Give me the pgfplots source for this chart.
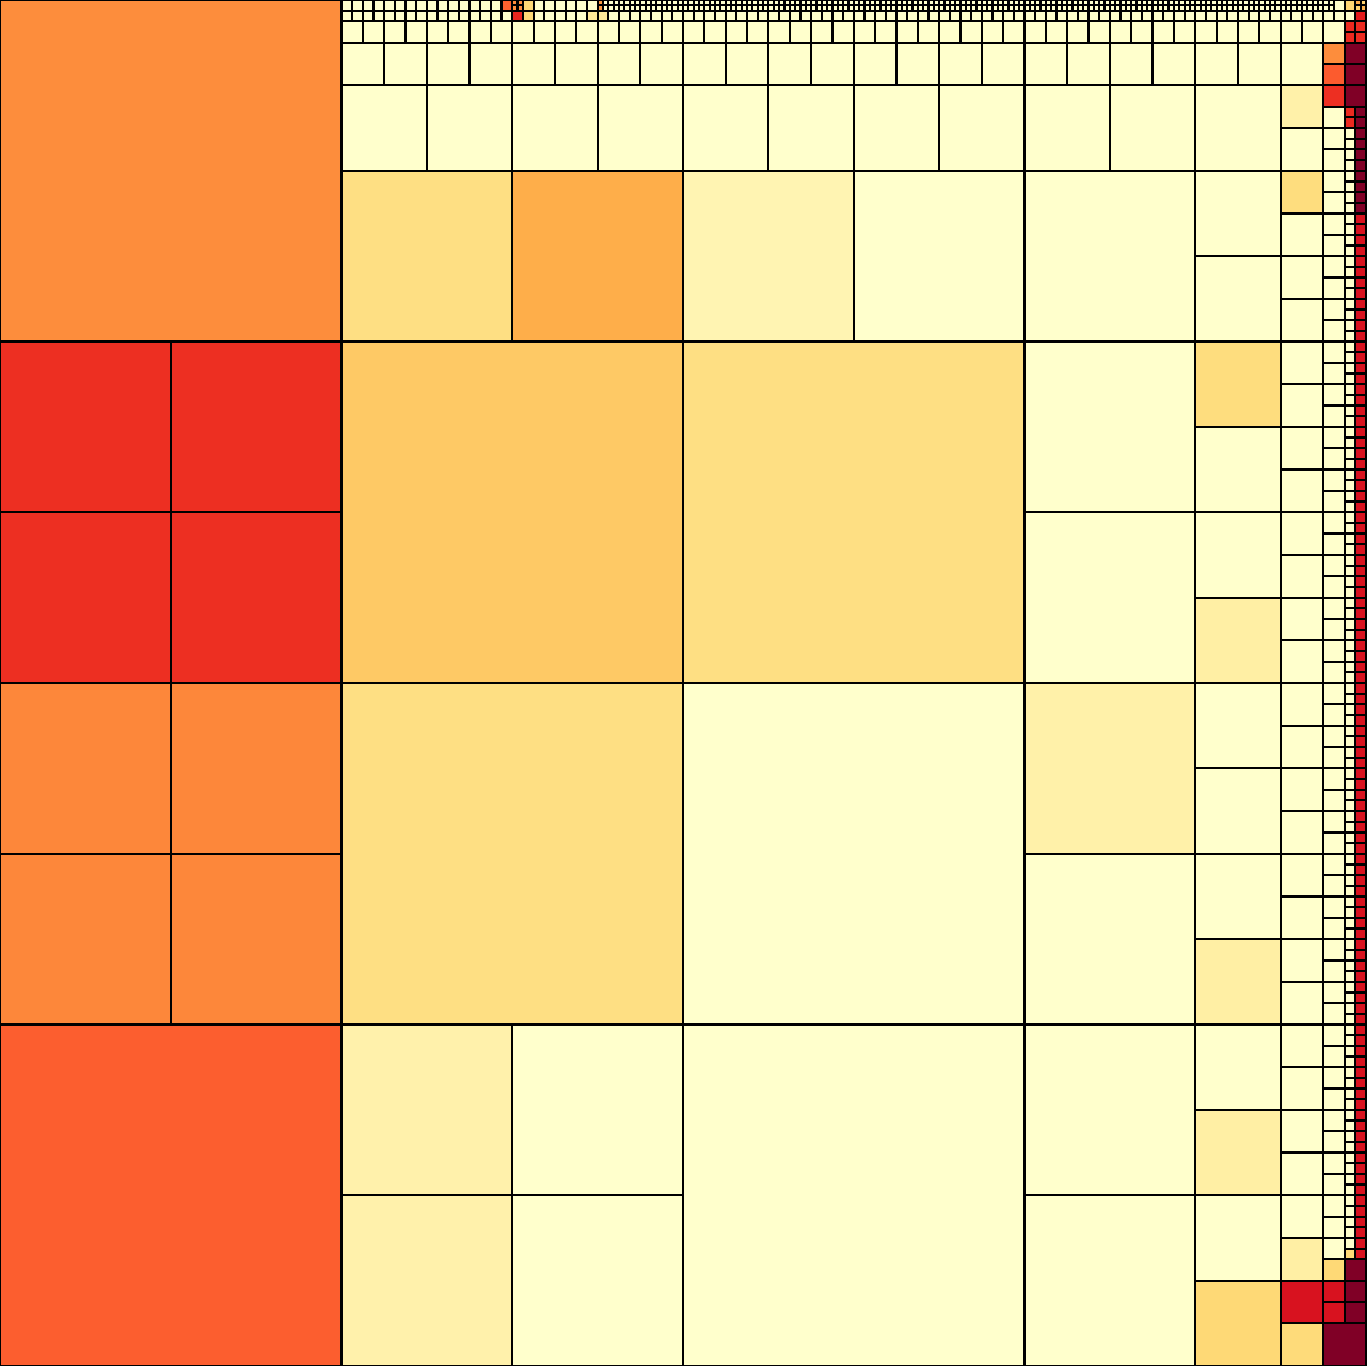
\documentclass[border=0pt]{standalone}
\usepackage{pgfplots}
\usepackage{pgfplotstable}
\pgfplotsset{compat=1.18}
\pgfplotsset{
  blk/.style={scatter, only marks, mark=square*, scatter src=explicit,
    scatter/use mapped color={draw=black,fill=mapped color},
    mark options={line width=0.55pt}, mark size=#1},
}
% c = first column, r = first row (from top), v = colour value (0..8 on YlOrRd)
\pgfplotstableread[row sep=\\]{
c r v\\
0 0 4.0\\0 192 4.75\\64 64 2.4\\128 64 1.7\\64 128 1.7\\128 128 0\\128 192 0\\
}\tabA
\pgfplotstableread[row sep=\\]{
c r v\\
0 64 5.6\\32 64 5.6\\0 96 5.6\\32 96 5.6\\0 128 4.1\\32 128 4.1\\0 160 4.1\\32 160 4.1\\
64 32 1.7\\96 32 3.1\\128 32 0.6\\160 32 0\\192 32 0\\192 64 0\\192 96 0\\192 128 0.8\\192 160 0\\
64 192 0.75\\96 192 0\\64 224 0.75\\96 224 0\\192 192 0\\192 224 0\\
}\tabB
\pgfplotstableread[row sep=\\]{
c r v\\
64 16 0\\80 16 0\\96 16 0\\112 16 0\\128 16 0\\144 16 0\\160 16 0\\176 16 0\\192 16 0\\208 16 0\\224 16 0\\
224 32 0\\224 48 0\\224 64 1.8\\224 80 0\\224 96 0\\224 112 0.9\\224 128 0\\224 144 0\\224 160 0\\224 176 0.9\\
224 192 0\\224 208 0.9\\224 224 0\\224 240 2.0\\
}\tabC
\pgfplotstableread[row sep=\\]{
c r v\\
64 8 0\\72 8 0\\80 8 0\\88 8 0\\96 8 0\\104 8 0\\112 8 0\\120 8 0\\128 8 0\\136 8 0\\144 8 0\\152 8 0\\
160 8 0\\168 8 0\\176 8 0\\184 8 0\\192 8 0\\200 8 0\\208 8 0\\216 8 0\\224 8 0\\232 8 0\\240 8 0\\
240 16 0.8\\240 24 0\\240 32 1.8\\240 40 0\\240 48 0\\240 56 0\\240 64 0\\240 72 0\\240 80 0\\240 88 0\\
240 96 0\\240 104 0\\240 112 0\\240 120 0\\240 128 0\\240 136 0\\240 144 0\\240 152 0\\240 160 0\\240 168 0\\
240 176 0\\240 184 0\\240 192 0\\240 200 0\\240 208 0\\240 216 0\\240 224 0\\240 232 0.9\\240 240 6.3\\240 248 1.9\\
248 248 8\\
}\tabD
\pgfplotstableread[row sep=\\]{
c r v\\
64 4 0\\68 4 0\\72 4 0\\76 4 0\\80 4 0\\84 4 0\\88 4 0\\92 4 0\\96 4 0\\100 4 0\\104 4 0\\108 4 0\\
112 4 0\\116 4 0\\120 4 0\\124 4 0\\128 4 0\\132 4 0\\136 4 0\\140 4 0\\144 4 0\\148 4 0\\152 4 0\\156 4 0\\
160 4 0\\164 4 0\\168 4 0\\172 4 0\\176 4 0\\180 4 0\\184 4 0\\188 4 0\\192 4 0\\196 4 0\\200 4 0\\204 4 0\\
208 4 0\\212 4 0\\216 4 0\\220 4 0\\224 4 0\\228 4 0\\232 4 0\\236 4 0\\240 4 0\\244 4 0\\248 4 0\\
248 8 4.0\\248 12 4.8\\248 16 5.6\\
248 20 0\\248 24 0\\248 28 0\\248 32 0\\248 36 0\\248 40 0\\248 44 0\\248 48 0\\248 52 0\\248 56 0\\
248 60 0\\248 64 0\\248 68 0\\248 72 0\\248 76 0\\248 80 0\\248 84 0\\248 88 0\\248 92 0\\248 96 0\\
248 100 0\\248 104 0\\248 108 0\\248 112 0\\248 116 0\\248 120 0\\248 124 0\\248 128 0\\248 132 0\\248 136 0\\
248 140 0\\248 144 0\\248 148 0\\248 152 0\\248 156 0\\248 160 0\\248 164 0\\248 168 0\\248 172 0\\248 176 0\\
248 180 0\\248 184 0\\248 188 0\\248 192 0\\248 196 0\\248 200 0\\248 204 0\\248 208 0\\248 212 0\\248 216 0\\
248 220 0\\248 224 0\\248 228 0\\248 232 0\\
248 236 2.0\\248 240 6.3\\248 244 6.3\\
252 8 8\\252 12 8\\252 16 8\\252 236 8\\252 240 8\\252 244 8\\
}\tabE
\pgfplotstableread[row sep=\\]{
c r v\\
64 0 0\\66 0 0\\68 0 0\\70 0 0\\72 0 0\\74 0 0\\76 0 0\\78 0 0\\80 0 0\\82 0 0\\84 0 0\\86 0 0\\88 0 0\\90 0 0\\92 0 0\\
94 0 4.7\\98 0 2.0\\100 0 0\\102 0 0\\104 0 0\\106 0 0\\108 0 0\\110 0 0\\250 0 0\\252 0 2.1\\
64 2 0\\66 2 0\\68 2 0\\70 2 0\\72 2 0\\74 2 0\\76 2 0\\78 2 0\\80 2 0\\82 2 0\\84 2 0\\86 2 0\\88 2 0\\90 2 0\\
92 2 0\\94 2 0\\96 2 5.8\\98 2 2.0\\100 2 0\\102 2 0\\104 2 0\\106 2 0\\108 2 0\\110 2 1.2\\112 2 1.2\\114 2 0\\
116 2 0\\118 2 0\\120 2 0\\122 2 0\\124 2 0\\126 2 0\\128 2 0\\130 2 0\\132 2 0\\134 2 0\\136 2 0\\138 2 0\\
140 2 0\\142 2 0\\144 2 0\\146 2 0\\148 2 0\\150 2 0\\152 2 0\\154 2 0\\156 2 0\\158 2 0\\160 2 0\\162 2 0\\
164 2 0\\166 2 0\\168 2 0\\170 2 0\\172 2 0\\174 2 0\\176 2 0\\178 2 0\\180 2 0\\182 2 0\\184 2 0\\186 2 0\\
188 2 0\\190 2 0\\192 2 0\\194 2 0\\196 2 0\\198 2 0\\200 2 0\\202 2 0\\204 2 0\\206 2 0\\208 2 0\\210 2 0\\
212 2 0\\214 2 0\\216 2 0\\218 2 0\\220 2 0\\222 2 0\\224 2 0\\226 2 0\\228 2 0\\230 2 0\\232 2 0\\234 2 0\\
236 2 0\\238 2 0\\240 2 0\\242 2 0\\244 2 0\\246 2 0\\248 2 0\\250 2 0\\252 2 0\\254 2 6.0\\
252 4 5.7\\254 4 5.7\\252 6 5.7\\254 6 5.7\\
252 20 5.7\\252 22 5.7\\
252 24 0\\252 26 0\\252 28 0\\252 30 0\\252 32 0\\252 34 0\\252 36 0\\252 38 0\\252 40 0\\252 42 0\\
252 44 0\\252 46 0\\252 48 0\\252 50 0\\252 52 0\\252 54 0\\252 56 0\\252 58 0\\252 60 0\\252 62 0\\
252 64 0\\252 66 0\\252 68 0\\252 70 0\\252 72 0\\252 74 0\\252 76 0\\252 78 0\\252 80 0\\252 82 0\\
252 84 0\\252 86 0\\252 88 0\\252 90 0\\252 92 0\\252 94 0\\252 96 0\\252 98 0\\252 100 0\\252 102 0\\
252 104 0\\252 106 0\\252 108 0\\252 110 0\\252 112 0\\252 114 0\\252 116 0\\252 118 0\\252 120 0\\252 122 0\\
252 124 0\\252 126 0\\252 128 0\\252 130 0\\252 132 0\\252 134 0\\252 136 0\\252 138 0\\252 140 0\\252 142 0\\
252 144 0\\252 146 0\\252 148 0\\252 150 0\\252 152 0\\252 154 0\\252 156 0\\252 158 0\\252 160 0\\252 162 0\\
252 164 0\\252 166 0\\252 168 0\\252 170 0\\252 172 0\\252 174 0\\252 176 0\\252 178 0\\252 180 0\\252 182 0\\
252 184 0\\252 186 0\\252 188 0\\252 190 0\\252 192 0\\252 194 0\\252 196 0\\252 198 0\\252 200 0\\252 202 0\\
252 204 0\\252 206 0\\252 208 0\\252 210 0\\252 212 0\\252 214 0\\252 216 0\\252 218 0\\252 220 0\\252 222 0\\
252 224 0\\252 226 0\\252 228 0\\252 230 0\\252 232 0\\252 234 2.0\\
254 20 8\\254 22 8\\254 24 8\\254 26 8\\254 28 8\\254 30 8\\254 32 8\\254 34 8\\254 36 8\\254 38 8\\
254 40 6.3\\254 42 6.3\\254 44 6.3\\254 46 6.3\\254 48 6.3\\254 50 6.3\\254 52 6.3\\254 54 6.3\\254 56 6.3\\254 58 6.3\\
254 60 6.3\\254 62 6.3\\254 64 6.3\\254 66 6.3\\254 68 6.3\\254 70 6.3\\254 72 6.3\\254 74 6.3\\254 76 6.3\\254 78 6.3\\
254 80 6.3\\254 82 6.3\\254 84 6.3\\254 86 6.3\\254 88 6.3\\254 90 6.3\\254 92 6.3\\254 94 6.3\\254 96 6.3\\254 98 6.3\\
254 100 6.3\\254 102 6.3\\254 104 6.3\\254 106 6.3\\254 108 6.3\\254 110 6.3\\254 112 6.3\\254 114 6.3\\254 116 6.3\\254 118 6.3\\
254 120 6.3\\254 122 6.3\\254 124 6.3\\254 126 6.3\\254 128 6.3\\254 130 6.3\\254 132 6.3\\254 134 6.3\\254 136 6.3\\254 138 6.3\\
254 140 6.3\\254 142 6.3\\254 144 6.3\\254 146 6.3\\254 148 6.3\\254 150 6.3\\254 152 6.3\\254 154 6.3\\254 156 6.3\\254 158 6.3\\
254 160 6.3\\254 162 6.3\\254 164 6.3\\254 166 6.3\\254 168 6.3\\254 170 6.3\\254 172 6.3\\254 174 6.3\\254 176 6.3\\254 178 6.3\\
254 180 6.3\\254 182 6.3\\254 184 6.3\\254 186 6.3\\254 188 6.3\\254 190 6.3\\254 192 6.3\\254 194 6.3\\254 196 6.3\\254 198 6.3\\
254 200 6.3\\254 202 6.3\\254 204 6.3\\254 206 6.3\\254 208 6.3\\254 210 6.3\\254 212 6.3\\254 214 6.3\\254 216 6.3\\254 218 6.3\\
254 220 6.3\\254 222 6.3\\254 224 6.3\\254 226 6.3\\254 228 6.3\\254 230 6.3\\254 232 6.3\\254 234 6.3\\
}\tabF
\pgfplotstableread[row sep=\\]{
c r v\\
96 0 4\\97 0 4\\112 0 3.7\\
113 0 0\\114 0 0\\115 0 0\\116 0 0\\117 0 0\\118 0 0\\119 0 0\\120 0 0\\121 0 0\\122 0 0\\
123 0 0\\124 0 0\\125 0 0\\126 0 0\\127 0 0\\128 0 0\\129 0 0\\130 0 0\\131 0 0\\132 0 0\\
133 0 0\\134 0 0\\135 0 0\\136 0 0\\137 0 0\\138 0 0\\139 0 0\\140 0 0\\141 0 0\\142 0 0\\
143 0 0\\144 0 0\\145 0 0\\146 0 0\\147 0 0\\148 0 0\\149 0 0\\150 0 0\\151 0 0\\152 0 0\\
153 0 0\\154 0 0\\155 0 0\\156 0 0\\157 0 0\\158 0 0\\159 0 0\\160 0 0\\161 0 0\\162 0 0\\
163 0 0\\164 0 0\\165 0 0\\166 0 0\\167 0 0\\168 0 0\\169 0 0\\170 0 0\\171 0 0\\172 0 0\\
173 0 0\\174 0 0\\175 0 0\\176 0 0\\177 0 0\\178 0 0\\179 0 0\\180 0 0\\181 0 0\\182 0 0\\
183 0 0\\184 0 0\\185 0 0\\186 0 0\\187 0 0\\188 0 0\\189 0 0\\190 0 0\\191 0 0\\192 0 0\\
193 0 0\\194 0 0\\195 0 0\\196 0 0\\197 0 0\\198 0 0\\199 0 0\\200 0 0\\201 0 0\\202 0 0\\
203 0 0\\204 0 0\\205 0 0\\206 0 0\\207 0 0\\208 0 0\\209 0 0\\210 0 0\\211 0 0\\212 0 0\\
213 0 0\\214 0 0\\215 0 0\\216 0 0\\217 0 0\\218 0 0\\219 0 0\\220 0 0\\221 0 0\\222 0 0\\
223 0 0\\224 0 0\\225 0 0\\226 0 0\\227 0 0\\228 0 0\\229 0 0\\230 0 0\\231 0 0\\232 0 0\\
233 0 0\\234 0 0\\235 0 0\\236 0 0\\237 0 0\\238 0 0\\239 0 0\\240 0 0\\241 0 0\\242 0 0\\
243 0 0\\244 0 0\\245 0 0\\246 0 0\\247 0 0\\248 0 0\\249 0 0\\
254 0 3.2\\255 0 2.2\\
96 1 4\\97 1 4\\112 1 3.7\\
113 1 0\\114 1 0\\115 1 0\\116 1 0\\117 1 0\\118 1 0\\119 1 0\\120 1 0\\121 1 0\\122 1 0\\
123 1 0\\124 1 0\\125 1 0\\126 1 0\\127 1 0\\128 1 0\\129 1 0\\130 1 0\\131 1 0\\132 1 0\\
133 1 0\\134 1 0\\135 1 0\\136 1 0\\137 1 0\\138 1 0\\139 1 0\\140 1 0\\141 1 0\\142 1 0\\
143 1 0\\144 1 0\\145 1 0\\146 1 0\\147 1 0\\148 1 0\\149 1 0\\150 1 0\\151 1 0\\152 1 0\\
153 1 0\\154 1 0\\155 1 0\\156 1 0\\157 1 0\\158 1 0\\159 1 0\\160 1 0\\161 1 0\\162 1 0\\
163 1 0\\164 1 0\\165 1 0\\166 1 0\\167 1 0\\168 1 0\\169 1 0\\170 1 0\\171 1 0\\172 1 0\\
173 1 0\\174 1 0\\175 1 0\\176 1 0\\177 1 0\\178 1 0\\179 1 0\\180 1 0\\181 1 0\\182 1 0\\
183 1 0\\184 1 0\\185 1 0\\186 1 0\\187 1 0\\188 1 0\\189 1 0\\190 1 0\\191 1 0\\192 1 0\\
193 1 0\\194 1 0\\195 1 0\\196 1 0\\197 1 0\\198 1 0\\199 1 0\\200 1 0\\201 1 0\\202 1 0\\
203 1 0\\204 1 0\\205 1 0\\206 1 0\\207 1 0\\208 1 0\\209 1 0\\210 1 0\\211 1 0\\212 1 0\\
213 1 0\\214 1 0\\215 1 0\\216 1 0\\217 1 0\\218 1 0\\219 1 0\\220 1 0\\221 1 0\\222 1 0\\
223 1 0\\224 1 0\\225 1 0\\226 1 0\\227 1 0\\228 1 0\\229 1 0\\230 1 0\\231 1 0\\232 1 0\\
233 1 0\\234 1 0\\235 1 0\\236 1 0\\237 1 0\\238 1 0\\239 1 0\\240 1 0\\241 1 0\\242 1 0\\
243 1 0\\244 1 0\\245 1 0\\246 1 0\\247 1 0\\248 1 0\\249 1 0\\
254 1 2.2\\255 1 3.0\\
}\tabG
\begin{document}
\begin{tikzpicture}
\begin{axis}[
  x=1.33371pt, y=1.33371pt, y dir=reverse,
  xmin=0, xmax=256, ymin=0, ymax=256,
  hide axis, clip=false,
  colormap={ylorrd}{rgb255=(255,255,204) rgb255=(255,237,160) rgb255=(254,217,118)
    rgb255=(254,178,76) rgb255=(253,141,60) rgb255=(252,78,42) rgb255=(227,26,28)
    rgb255=(189,0,38) rgb255=(128,0,38)},
  point meta min=0, point meta max=8,
]
\addplot[blk=42.6788pt] table[x expr=\thisrow{c}+32, y expr=\thisrow{r}+32, meta=v]{\tabA};
\addplot[blk=21.3394pt] table[x expr=\thisrow{c}+16, y expr=\thisrow{r}+16, meta=v]{\tabB};
\addplot[blk=10.6697pt] table[x expr=\thisrow{c}+8, y expr=\thisrow{r}+8, meta=v]{\tabC};
\addplot[blk=5.33485pt] table[x expr=\thisrow{c}+4, y expr=\thisrow{r}+4, meta=v]{\tabD};
\addplot[blk=2.66742pt] table[x expr=\thisrow{c}+2, y expr=\thisrow{r}+2, meta=v]{\tabE};
\addplot[blk=1.33371pt] table[x expr=\thisrow{c}+1, y expr=\thisrow{r}+1, meta=v]{\tabF};
\addplot[blk=0.666856pt] table[x expr=\thisrow{c}+0.5, y expr=\thisrow{r}+0.5, meta=v]{\tabG};
\end{axis}
\end{tikzpicture}
\end{document}
